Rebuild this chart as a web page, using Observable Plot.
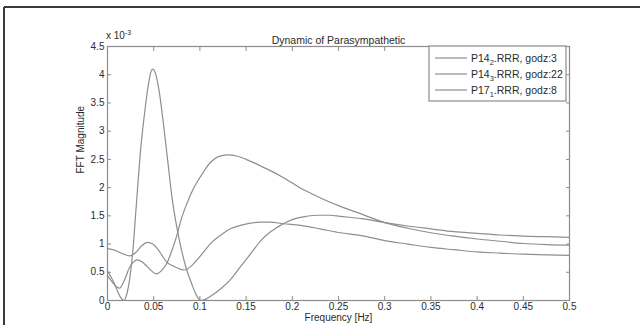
<!DOCTYPE html>
<html>
<head>
<meta charset="utf-8">
<script src="https://cdn.jsdelivr.net/npm/d3@7"></script>
<script src="https://cdn.jsdelivr.net/npm/@observablehq/plot@0.6"></script>
<style>
  html, body { margin: 0; padding: 0; background: #fff; }
  #chart { position: relative; width: 640px; height: 325px; overflow: hidden; }
</style>
</head>
<body>
<div id="chart"></div>
<script>
// ---- data (magnitudes in units of 1e-3) ----
const seriesLabels = [
  ["P14", "2", ".RRR, godz:3"],
  ["P14", "3", ".RRR, godz:22"],
  ["P17", "1", ".RRR, godz:8"]
];

const freqA = [0, 0.005, 0.01, 0.014, 0.018, 0.021, 0.024, 0.027, 0.031, 0.036, 0.04, 0.044, 0.047, 0.049, 0.052, 0.056, 0.06, 0.065, 0.07, 0.075, 0.08, 0.085, 0.091, 0.096, 0.101, 0.106, 0.112, 0.122, 0.133, 0.144, 0.155, 0.166, 0.175, 0.184, 0.195, 0.205, 0.215, 0.227, 0.24, 0.252, 0.275, 0.3, 0.325, 0.35, 0.375, 0.4, 0.425, 0.45, 0.475, 0.5];
const magA  = [0.52, 0.38, 0.2, 0.06, 0.0, 0.12, 0.38, 0.8, 1.65, 2.7, 3.3, 3.8, 4.05, 4.1, 4.02, 3.7, 3.2, 2.5, 1.8, 1.3, 0.9, 0.58, 0.3, 0.1, 0.0, 0.02, 0.08, 0.2, 0.37, 0.6, 0.83, 1.06, 1.2, 1.3, 1.4, 1.46, 1.49, 1.51, 1.51, 1.49, 1.45, 1.38, 1.32, 1.27, 1.22, 1.19, 1.16, 1.14, 1.13, 1.12];

const freqB = [0, 0.005, 0.01, 0.013, 0.018, 0.024, 0.028, 0.032, 0.037, 0.043, 0.048, 0.053, 0.058, 0.064, 0.07, 0.075, 0.08, 0.086, 0.092, 0.097, 0.104, 0.111, 0.12, 0.13, 0.14, 0.15, 0.16, 0.17, 0.18, 0.19, 0.2, 0.21, 0.22, 0.23, 0.25, 0.275, 0.3, 0.325, 0.35, 0.375, 0.4, 0.425, 0.45, 0.475, 0.5];
const magB  = [0.44, 0.33, 0.24, 0.22, 0.35, 0.59, 0.68, 0.72, 0.69, 0.6, 0.52, 0.47, 0.52, 0.65, 0.9, 1.15, 1.45, 1.72, 1.95, 2.1, 2.28, 2.44, 2.55, 2.58, 2.56, 2.5, 2.43, 2.35, 2.27, 2.18, 2.08, 1.98, 1.9, 1.82, 1.68, 1.53, 1.38, 1.28, 1.2, 1.14, 1.09, 1.05, 1.01, 0.99, 0.98];

const freqC = [0, 0.008, 0.016, 0.024, 0.03, 0.037, 0.043, 0.049, 0.054, 0.059, 0.064, 0.07, 0.075, 0.083, 0.09, 0.097, 0.105, 0.111, 0.122, 0.133, 0.144, 0.155, 0.165, 0.176, 0.19, 0.209, 0.23, 0.252, 0.275, 0.3, 0.325, 0.35, 0.375, 0.4, 0.425, 0.45, 0.475, 0.5];
const magC  = [0.92, 0.89, 0.83, 0.79, 0.84, 0.97, 1.03, 1.0, 0.92, 0.8, 0.68, 0.62, 0.58, 0.54, 0.6, 0.72, 0.88, 1.0, 1.15, 1.27, 1.33, 1.37, 1.39, 1.39, 1.36, 1.33, 1.27, 1.2, 1.15, 1.06, 1.0, 0.94, 0.9, 0.86, 0.84, 0.82, 0.81, 0.8];

const xTicks = [0, 0.05, 0.1, 0.15, 0.2, 0.25, 0.3, 0.35, 0.4, 0.45, 0.5];
const xTickLabels = ["0", "0.05", "0.1", "0.15", "0.2", "0.25", "0.3", "0.35", "0.4", "0.45", "0.5"];
const yTicks = [0, 0.5, 1, 1.5, 2, 2.5, 3, 3.5, 4, 4.5];
const yTickLabels = ["0", "0.5", "1", "1.5", "2", "2.5", "3", "3.5", "4", "4.5"];

const titleText = "Dynamic of Parasympathetic";
const xLabel = "Frequency [Hz]";
const yLabel = "FFT Magnitude";

(function () {
  const toRows = (fs, ms) => fs.map((f, i) => ({f, m: ms[i]}));
  const rowsA = toRows(freqA, magA);
  const rowsB = toRows(freqB, magB);
  const rowsC = toRows(freqC, magC);

  const lineColor = "#8e8e8e";
  const axisColor = "#8c8c8c";
  const textColor = "#2b2b2b";
  const font = "'Liberation Sans', Arial, Helvetica, sans-serif";

  const chart = Plot.plot({
    width: 640,
    height: 325,
    marginLeft: 107,
    marginRight: 71,
    marginTop: 46,
    marginBottom: 25,
    style: {fontFamily: font, fontSize: "10px", color: textColor, background: "#fff", overflow: "visible"},
    x: {domain: [0, 0.5]},
    y: {domain: [0, 4.5]},
    marks: [
      Plot.line(rowsA, {x: "f", y: "m", stroke: lineColor, strokeWidth: 1.2, curve: "monotone-x"}),
      Plot.line(rowsB, {x: "f", y: "m", stroke: lineColor, strokeWidth: 1.2, curve: "monotone-x"}),
      Plot.line(rowsC, {x: "f", y: "m", stroke: lineColor, strokeWidth: 1.2, curve: "monotone-x"}),
      Plot.frame({stroke: axisColor, strokeWidth: 1.2}),
      Plot.axisX(xTicks, {anchor: "bottom", tickSize: -4, tickPadding: 6, stroke: axisColor, fill: textColor,
        tickFormat: d => xTickLabels[xTicks.indexOf(d)], label: null}),
      Plot.axisX(xTicks, {anchor: "top", tickSize: -4, stroke: axisColor, tickFormat: () => "", label: null}),
      Plot.axisY(yTicks, {anchor: "left", tickSize: -4, tickPadding: 7, stroke: axisColor, fill: textColor,
        tickFormat: d => yTickLabels[yTicks.indexOf(d)], label: null}),
      Plot.axisY(yTicks, {anchor: "right", tickSize: -4, stroke: axisColor, tickFormat: () => "", label: null}),
      Plot.text([titleText], {frameAnchor: "top", dy: -10, text: d => d, fontSize: 10.5, fill: textColor}),
      Plot.text([xLabel], {frameAnchor: "bottom", dy: 20, text: d => d, fontSize: 10, fill: textColor}),
      Plot.text([yLabel], {frameAnchor: "left", dx: -27, rotate: -90, text: d => d, fontSize: 10, fill: textColor})
    ]
  });

  document.getElementById("chart").appendChild(chart);

  const svg = d3.select(chart);
  const xs = chart.scale("x"), ys = chart.scale("y");
  const pLeft = xs.range[0], pRight = xs.range[1];
  const pTop = ys.range[1];

  // exponent label "x 10^-3"
  const expo = svg.append("text")
    .attr("x", pLeft - 1).attr("y", pTop - 7).attr("text-anchor", "start")
    .attr("font-family", font).attr("font-size", 10).attr("fill", textColor);
  expo.append("tspan").text("x 10");
  expo.append("tspan").attr("dy", -4).attr("font-size", 7).text("-3");

  // legend box
  const lgW = 137, lgH = 55;
  const lgX = pRight - 3 - lgW, lgY = pTop;
  const lg = svg.append("g");
  lg.append("rect").attr("x", lgX).attr("y", lgY).attr("width", lgW).attr("height", lgH)
    .attr("fill", "#fff").attr("stroke", axisColor).attr("stroke-width", 1.2);
  seriesLabels.forEach((parts, i) => {
    const cy = lgY + 12 + i * 16;
    lg.append("line").attr("x1", lgX + 6).attr("x2", lgX + 38).attr("y1", cy).attr("y2", cy)
      .attr("stroke", lineColor).attr("stroke-width", 1.2);
    const t = lg.append("text").attr("x", lgX + 42).attr("y", cy + 3.5).attr("text-anchor", "start")
      .attr("font-family", font).attr("font-size", 10.5).attr("fill", textColor);
    t.append("tspan").text(parts[0]);
    t.append("tspan").attr("dy", 3).attr("font-size", 7.5).text(parts[1]);
    t.append("tspan").attr("dy", -3).text(parts[2]);
  });

  // outer figure border (top & left edges of the screenshot frame)
  svg.append("line").attr("x1", 4).attr("x2", 640).attr("y1", 7).attr("y2", 7)
    .attr("stroke", "#3a3a3a").attr("stroke-width", 2);
  svg.append("line").attr("x1", 4).attr("x2", 4).attr("y1", 7).attr("y2", 325)
    .attr("stroke", "#3a3a3a").attr("stroke-width", 2);
})();
</script>
</body>
</html>
